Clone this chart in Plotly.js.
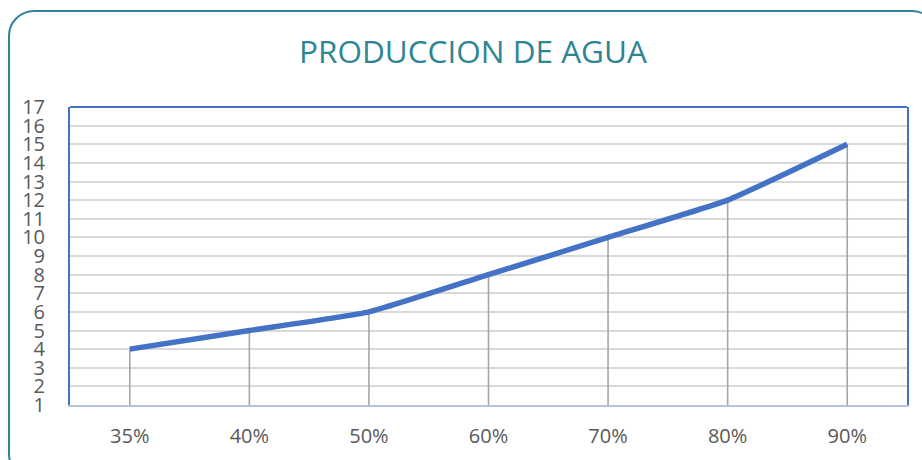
<!DOCTYPE html>
<html>
<head>
<meta charset="utf-8">
<script src="https://cdn.plot.ly/plotly-3.0.1.min.js"></script>
<style>
  html, body { margin: 0; padding: 0; background: #fff; overflow: hidden; }
  #wrap { position: relative; width: 922px; height: 460px; overflow: hidden; }
  #chart { position: absolute; left: 0; top: 0; width: 922px; height: 460px; }
  #frame { position: absolute; left: 8px; top: 10px; width: 930px; height: 470px;
           border: 2px solid #31849b; border-radius: 26px; box-sizing: border-box;
           pointer-events: none; }
</style>
</head>
<body>
<div id="wrap">
  <div id="chart"></div>
  <div id="frame"></div>
</div>
<script>
const chartTitle = "PRODUCCION DE AGUA";
const categories = ["35%", "40%", "50%", "60%", "70%", "80%", "90%"];
const production = [4, 5, 6, 8, 10, 12, 15];
const yTicks = [1,2,3,4,5,6,7,8,9,10,11,12,13,14,15,16,17];
const yMin = 1, yMax = 17;

const dropLines = {
  x: categories,
  y: production,
  type: "scatter",
  mode: "markers",
  marker: { opacity: 0, size: 1 },
  hoverinfo: "skip",
  showlegend: false,
  error_y: {
    type: "data",
    symmetric: false,
    array: production.map(() => 0),
    arrayminus: production.map(v => v - yMin),
    color: "#a6a6a6",
    thickness: 1.6,
    width: 0
  }
};

const line = {
  x: categories,
  y: production,
  type: "scatter",
  mode: "lines",
  line: { color: "#4472c4", width: 5.5, shape: "spline", smoothing: 0.4 },
  showlegend: false
};

const layout = {
  width: 922, height: 460,
  margin: { l: 70, r: 15, t: 107, b: 55 },
  paper_bgcolor: "#ffffff",
  plot_bgcolor: "#ffffff",
  title: {
    text: chartTitle,
    font: { family: "Open Sans, sans-serif", size: 31.5, color: "#2e8595" },
    x: 0.513, xanchor: "center", y: 0.887, yanchor: "middle"
  },
  xaxis: {
    type: "category",
    range: [-0.5, categories.length - 0.5],
    showgrid: false,
    showline: true, linecolor: "#b4c4e4", linewidth: 2,
    ticks: "", ticklabelstandoff: 12,
    tickfont: { family: "Open Sans, sans-serif", size: 20, color: "#595959" },
    zeroline: false, fixedrange: true
  },
  yaxis: {
    range: [yMin, yMax],
    tickvals: yTicks,
    ticktext: yTicks.map(String),
    showgrid: true, gridcolor: "#d9d9d9", gridwidth: 2,
    showline: true, mirror: true, linecolor: "#4472c4", linewidth: 2,
    ticks: "", ticklabelstandoff: 19,
    tickfont: { family: "Open Sans, sans-serif", size: 20, color: "#595959" },
    zeroline: false, fixedrange: true
  },
  shapes: [
    { type: "line", xref: "paper", yref: "paper", x0: 0, x1: 1, y0: 1, y1: 1,
      line: { color: "#4472c4", width: 2 } }
  ]
};

Plotly.newPlot("chart", [dropLines, line], layout, { displayModeBar: false, staticPlot: true });
</script>
</body>
</html>
